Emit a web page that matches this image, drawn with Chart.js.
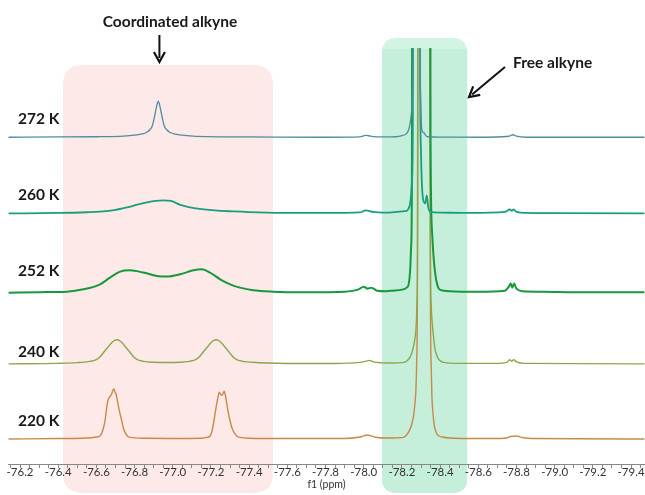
<!DOCTYPE html>
<html><head><meta charset="utf-8">
<script src="https://cdn.jsdelivr.net/npm/chart.js@4.4.1/dist/chart.umd.min.js"></script>
<style>html,body{margin:0;padding:0;background:#fff;}#wrap{width:645px;height:495px;position:relative;}</style>
</head><body><div id="wrap"><canvas id="c" width="645" height="495"></canvas></div>
<script>
// ---------------- DATA ----------------
const temperatures = ["272 K", "260 K", "252 K", "240 K", "220 K"];
// vertical stacking offset of each spectrum (intensity units)
const baselines = [326, 250, 171, 100, 25];
const tickLabels = ["-76.2","-76.4","-76.6","-76.8","-77.0","-77.2","-77.4","-77.6","-77.8","-78.0","-78.2","-78.4","-78.6","-78.8","-79.0","-79.2","-79.4"];
const coordRegion = [-76.425, -77.525];   // ppm range of "Coordinated alkyne" box
const freeRegion = [-78.096, -78.542];    // ppm range of "Free alkyne" box

const ppm272 = [-76.14,-76.40,-76.60,-76.674,-76.774,-76.834,-76.864,-76.882,-76.892,-76.899,-76.906,-76.912,-76.918,-76.924,-76.930,-76.936,-76.942,-76.949,-76.956,-76.966,-76.984,-77.014,-77.074,-77.174,-77.40,-77.80,-77.98,-78.01,-78.025,-78.05,-78.10,-78.17,-78.20,-78.215,-78.226,-78.236,-78.243,-78.248,-78.252,-78.256,-78.259,-78.263,-78.29,-78.294,-78.298,-78.303,-78.31,-78.316,-78.323,-78.333,-78.40,-78.60,-78.76,-78.78,-78.80,-78.85,-79.47];
const int272 = [0,0.3,0.5,0.6,1.6,3,5,8,11,16,22,28,33,36,33,28,22,16,11,8,5,3,1.6,0.6,0.3,0,0.3,1.8,1.5,0.6,0.3,0.5,1.5,2.5,4,8,14,21,30,50,90,700,700,120,40,10,5,4.5,2,0.5,0.2,0,1,2.5,1,0,0];

const ppm260 = [-76.14,-76.40,-76.55,-76.62,-76.70,-76.76,-76.82,-76.865,-76.91,-76.95,-76.99,-77.04,-77.09,-77.14,-77.22,-77.32,-77.45,-77.60,-77.80,-77.98,-78.01,-78.025,-78.05,-78.10,-78.15,-78.20,-78.225,-78.235,-78.242,-78.248,-78.253,-78.257,-78.262,-78.29,-78.295,-78.30,-78.31,-78.322,-78.33,-78.338,-78.35,-78.40,-78.55,-78.74,-78.765,-78.775,-78.785,-78.80,-78.85,-79.00,-79.47];
const int260 = [0,0.5,1.2,1.8,3.5,6,9,11,12.5,13,12.5,8.5,6,4.5,3,2,1,0.5,0.5,1,3,2.5,1.5,0.8,1,2,2.5,5,9,18,35,80,700,700,150,60,15,10,18,6,1.5,0.8,0.5,1.5,4,2.5,4,1.5,0.5,0.3,0];

const ppm252 = [-76.14,-76.30,-76.445,-76.532,-76.619,-76.671,-76.724,-76.776,-76.846,-76.916,-76.968,-77.038,-77.108,-77.152,-77.195,-77.248,-77.300,-77.352,-77.421,-77.525,-77.70,-77.90,-77.97,-78.00,-78.02,-78.04,-78.07,-78.12,-78.15,-78.20,-78.225,-78.236,-78.243,-78.248,-78.252,-78.256,-78.345,-78.35,-78.358,-78.366,-78.375,-78.385,-78.395,-78.42,-78.45,-78.60,-78.74,-78.76,-78.77,-78.778,-78.787,-78.80,-78.83,-78.95,-79.10,-79.47];
const int252 = [0,0.5,1,3.3,8.3,15,21,22.3,20,16.7,16,18.3,22.3,23.3,20,13.3,8.3,5,2.3,1,0.5,1,3,6,4,5,2,1.5,2,3,5,9,22,45,100,700,700,150,60,35,18,8,3.5,2,1.5,1,2,6,9,5,9,4,1.5,1,0.5,0.5];

const ppm240 = [-76.14,-76.40,-76.50,-76.567,-76.597,-76.617,-76.632,-76.647,-76.662,-76.677,-76.692,-76.707,-76.722,-76.737,-76.752,-76.767,-76.782,-76.797,-76.817,-76.847,-76.897,-76.967,-77.037,-77.087,-77.117,-77.137,-77.152,-77.167,-77.182,-77.197,-77.212,-77.227,-77.242,-77.257,-77.272,-77.287,-77.302,-77.317,-77.337,-77.367,-77.417,-77.50,-77.60,-77.80,-77.95,-78.01,-78.03,-78.05,-78.10,-78.15,-78.20,-78.217,-78.232,-78.243,-78.252,-78.26,-78.267,-78.273,-78.278,-78.282,-78.287,-78.343,-78.349,-78.354,-78.359,-78.365,-78.370,-78.374,-78.382,-78.391,-78.405,-78.42,-78.50,-78.70,-78.75,-78.765,-78.775,-78.785,-78.80,-78.84,-79.47];
const int240 = [0,0.5,1.2,2.5,4,6.5,10,13.5,17,20.5,23,24,23,20.5,17,13.5,10,6.5,4,2.5,1.6,1.3,1.6,2.5,4,6.5,10,13.5,17,20.5,23,24,23,20.5,17,13.5,10,6.5,4,2.5,1.6,0.8,0.4,0.3,1,2.5,3.5,2,1,0.8,1.2,1.7,4,6.7,11,16.7,24,33,55,120,700,700,120,55,40,28,19,14,8.5,5,2.5,1.5,0.5,0.5,1.5,4,2.5,4,2,0.5,0];

const ppm220 = [-76.14,-76.40,-76.55,-76.60,-76.619,-76.632,-76.645,-76.651,-76.657,-76.662,-76.668,-76.674,-76.68,-76.686,-76.692,-76.697,-76.703,-76.709,-76.715,-76.724,-76.733,-76.741,-76.75,-76.76,-76.776,-76.85,-77.00,-77.15,-77.18,-77.195,-77.204,-77.213,-77.222,-77.230,-77.237,-77.244,-77.25,-77.257,-77.263,-77.269,-77.275,-77.283,-77.291,-77.300,-77.31,-77.321,-77.335,-77.352,-77.40,-77.60,-77.90,-77.98,-78.02,-78.04,-78.07,-78.12,-78.18,-78.208,-78.222,-78.234,-78.244,-78.252,-78.259,-78.264,-78.269,-78.273,-78.277,-78.281,-78.285,-78.345,-78.349,-78.353,-78.357,-78.362,-78.366,-78.370,-78.376,-78.383,-78.395,-78.41,-78.45,-78.60,-78.74,-78.77,-78.80,-78.83,-78.88,-79.47];
const int220 = [0,0.5,1,2,3,8,18,27,35,39.5,41.6,43,45,48.5,50,47,45,39,33,25,18,11,6.6,3.5,1.6,0.8,0.6,0.8,1.6,3,7,15,26,35,42,46.6,44.5,43.5,45.5,47.6,44,35,26,18,11,6.6,3,1.6,0.8,0.5,0.5,2,4,3,1.5,1,1.2,1.7,3.5,6.7,10.5,15,21,28,37,48,75,150,700,700,150,75,43,26.7,19,13,8.5,5,3,2,1,0.5,0.8,2.5,3,1.5,0.5,0];

const seriesPpm = [ppm272, ppm260, ppm252, ppm240, ppm220];
const seriesInt = [int272, int260, int252, int240, int220];

// ---------------- STYLE / LAYOUT ----------------
const colors = ['#4d8ea0', '#1b9d80', '#17983b', '#8fa54c', '#c68b46'];
const widths = [1.3, 1.8, 2.0, 1.4, 1.4];
const labelLift = [13, 13, 17, 7, 13];
const FONT = 'Lato, "Open Sans", sans-serif';

const datasets = seriesPpm.map((px, i) => ({
  label: temperatures[i],
  data: px.map((x, j) => ({ x: x, y: baselines[i] + seriesInt[i][j] })),
  borderColor: colors[i],
  borderWidth: widths[i],
  pointRadius: 0,
  fill: false,
  cubicInterpolationMode: 'monotone'
}));

function roundRect(ctx, x, y, w, h, r) {
  ctx.beginPath();
  ctx.moveTo(x + r, y);
  ctx.lineTo(x + w - r, y);
  ctx.quadraticCurveTo(x + w, y, x + w, y + r);
  ctx.lineTo(x + w, y + h - r);
  ctx.quadraticCurveTo(x + w, y + h, x + w - r, y + h);
  ctx.lineTo(x + r, y + h);
  ctx.quadraticCurveTo(x, y + h, x, y + h - r);
  ctx.lineTo(x, y + r);
  ctx.quadraticCurveTo(x, y, x + r, y);
  ctx.closePath();
}

function arrow(ctx, x1, y1, x2, y2) {
  const a = Math.atan2(y2 - y1, x2 - x1);
  const hl = 10, hw = 5.5;
  ctx.save();
  ctx.strokeStyle = '#111'; ctx.fillStyle = '#111'; ctx.lineWidth = 2;
  ctx.beginPath();
  ctx.moveTo(x1, y1);
  ctx.lineTo(x2 - Math.cos(a) * 4, y2 - Math.sin(a) * 4);
  ctx.stroke();
  ctx.lineWidth = 2.2; ctx.lineJoin = 'miter';
  ctx.beginPath();
  ctx.moveTo(x2 - Math.cos(a) * hl - Math.sin(a) * hw, y2 - Math.sin(a) * hl + Math.cos(a) * hw);
  ctx.lineTo(x2, y2);
  ctx.lineTo(x2 - Math.cos(a) * hl + Math.sin(a) * hw, y2 - Math.sin(a) * hl - Math.cos(a) * hw);
  ctx.stroke();
  ctx.restore();
}

const decor = {
  id: 'decor',
  beforeDraw(chart) {
    const ctx = chart.ctx, xs = chart.scales.x;
    let x1 = xs.getPixelForValue(coordRegion[0]), x2 = xs.getPixelForValue(coordRegion[1]);
    ctx.save();
    ctx.fillStyle = 'rgb(253,233,232)';
    roundRect(ctx, x1, 65, x2 - x1, 428, 20);
    ctx.fill();
    x1 = xs.getPixelForValue(freeRegion[0]); x2 = xs.getPixelForValue(freeRegion[1]);
    ctx.fillStyle = 'rgb(210,244,228)';
    roundRect(ctx, x1, 38, x2 - x1, 455, 15);
    ctx.fill();
    ctx.clip();
    ctx.fillStyle = 'rgb(197,239,219)';
    ctx.fillRect(x1, chart.chartArea.top + 1, x2 - x1, 500);
    ctx.restore();
  },
  afterDatasetsDraw(chart) {
    const ctx = chart.ctx, ys = chart.scales.y, xs = chart.scales.x;
    ctx.save();
    ctx.fillStyle = '#1a1a1a';
    ctx.font = 'bold 15.5px ' + FONT;
    ctx.textAlign = 'left'; ctx.textBaseline = 'alphabetic';
    temperatures.forEach((t, i) => {
      ctx.fillText(t, 18, ys.getPixelForValue(baselines[i]) - labelLift[i]);
    });
    ctx.font = 'bold 15.5px ' + FONT;
    ctx.textAlign = 'center';
    ctx.fillText('Coordinated alkyne', 170, 27);
    ctx.textAlign = 'left';
    ctx.fillText('Free alkyne', 513, 68);
    ctx.restore();
    const ax = xs.getPixelForValue(-76.93);
    arrow(ctx, ax, 35, ax, 62);
    arrow(ctx, 505, 67, 469, 97);
  }
};

Chart.defaults.font.family = FONT;
new Chart(document.getElementById('c'), {
  type: 'line',
  data: { datasets },
  plugins: [decor],
  options: {
    responsive: false,
    animation: false,
    layout: { padding: { left: 8, right: 0, top: 48, bottom: 4.5 } },
    plugins: { legend: { display: false }, tooltip: { enabled: false } },
    scales: {
      x: {
        type: 'linear', reverse: true, min: -79.473, max: -76.137,
        afterBuildTicks(axis) {
          const t = [];
          for (let k = -1589; k <= -1523; k++) t.push({ value: k / 20 });
          axis.ticks = t;
        },
        ticks: {
          autoSkip: false, maxRotation: 0, padding: -3, color: '#333',
          font: { size: 11.5, family: FONT },
          callback(v) {
            const i = tickLabels.findIndex(s => Math.abs(Number(s) - v) < 1e-6);
            return i >= 0 ? tickLabels[i] : '';
          }
        },
        grid: { drawOnChartArea: false, tickLength: 4, color: '#888' },
        border: { color: '#888', width: 1 },
        title: { display: true, text: 'f1 (ppm)', color: '#333', font: { size: 10.5, family: FONT }, padding: { top: 2, bottom: 0 } }
      },
      y: { display: false, min: 0, max: 415 }
    }
  }
});
</script></body></html>
